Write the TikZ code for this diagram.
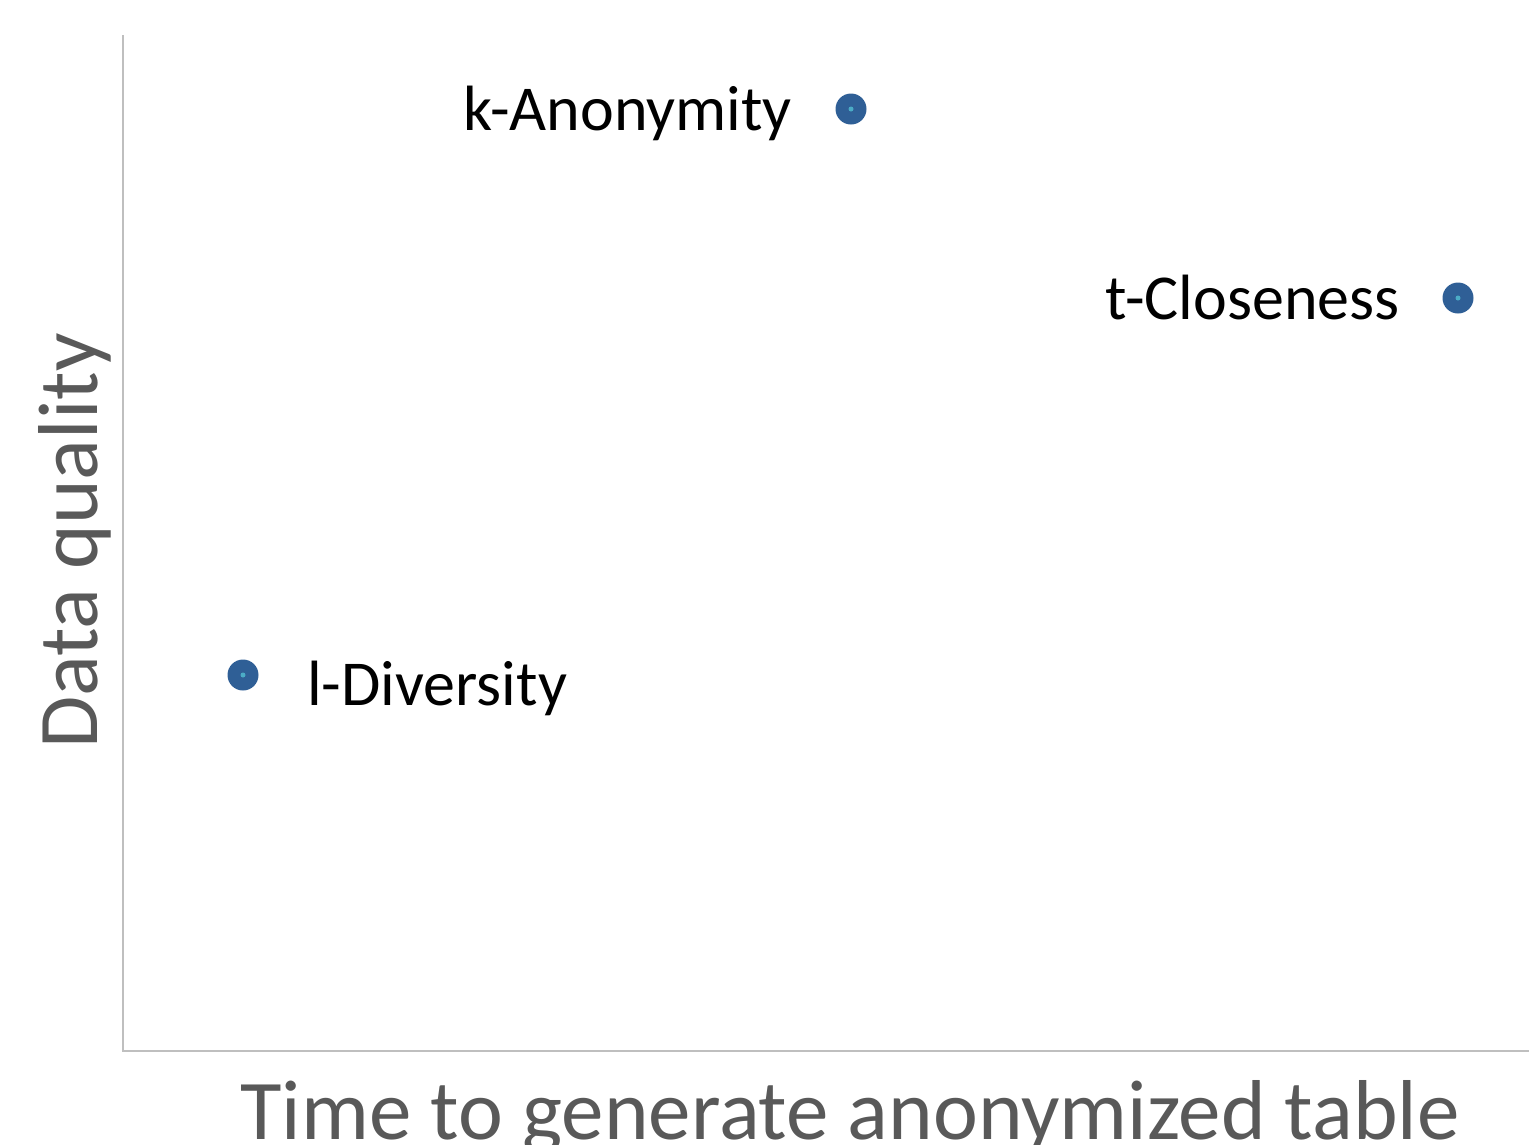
\documentclass[tikz,border=0pt]{standalone}
\usepackage{fontspec}
\setmainfont{Carlito}
\definecolor{axisgray}{HTML}{BFBFBF}
\definecolor{titlegray}{HTML}{595959}
\definecolor{dotblue}{HTML}{2F5F96}
\definecolor{dotcore}{HTML}{4BACC6}
\begin{document}
\begin{tikzpicture}[x=1pt,y=-1pt,
  axisline/.style={draw=axisgray,line width=2pt},
  lbl/.style={inner sep=0pt,font=\fontsize{64}{76}\selectfont,text=black},
  axtitle/.style={inner sep=0pt,font=\fontsize{85}{100}\selectfont,text=titlegray},
  pt/.style={circle,fill=dotblue,minimum size=31pt,inner sep=0pt}]
\useasboundingbox (0,0) rectangle (1529,1144);
\coordinate (o) at (123,1051);
\coordinate (ytop) at (123,35);
\coordinate (xend) at (1529,1051);
\draw[axisline] (ytop) -- (o) -- (xend);
\node[pt] (k) at (851,109) {};
\node[pt] (t) at (1458,298) {};
\node[pt] (l) at (243,675) {};
\foreach \n in {k,t,l} \fill[dotcore] (\n.center) circle (2.5pt);
\node[lbl,anchor=base east] (klab) at (792,130) {k-Anonymity};
\node[lbl,anchor=base east] (tlab) at (1400,319) {t-Closeness};
\node[lbl,anchor=base west] (llab) at (307,705) {l-Diversity};
\node[axtitle,anchor=base] (xt) at (850,1139) {Time to generate anonymized table};
\node[axtitle,anchor=base,rotate=90] (yt) at (97,541) {Data quality};
\end{tikzpicture}
\end{document}
